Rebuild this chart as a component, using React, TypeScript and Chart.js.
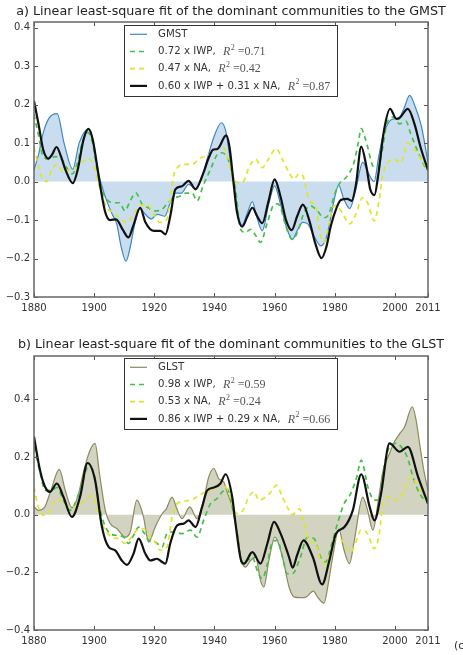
import { useEffect, useRef } from "react";
import { Chart, registerables } from "chart.js";

Chart.register(...registerables);

type Pt = [number, number];

// ---- shared axis ticks ----
const xTickYears = [1880, 1900, 1920, 1940, 1960, 1980, 2000, 2011];
const yTicksA = [-0.3, -0.2, -0.1, 0, 0.1, 0.2, 0.3, 0.4];
const yTicksB = [-0.4, -0.2, 0, 0.2, 0.4];

// ---- panel a: fit to GMST ----
const titleA = "a) Linear least-square fit of the dominant communities to the GMST";
const labelsA = ["GMST", "0.72 x IWP, ", "0.47 x NA, ", "0.60 x IWP + 0.31 x NA, "];
const r2A = ["", "0.71", "0.42", "0.87"];

const gmst: Pt[] = [
  [1880, 0.03], [1881.5, 0.07], [1883, 0.125], [1885, 0.165], [1887.7, 0.177], [1890, 0.1],
  [1892.9, 0.032], [1895, 0.1], [1898.2, 0.137], [1899.8, 0.1], [1901.5, 0.02], [1902.5, -0.01],
  [1904.2, -0.05], [1906, -0.085], [1907.5, -0.11], [1909, -0.17], [1910.6, -0.207], [1912, -0.17],
  [1913.5, -0.11], [1915.3, -0.07], [1917, -0.085], [1919, -0.097], [1921, -0.085], [1923.5, -0.09],
  [1925.3, -0.055], [1927, -0.03], [1929, -0.03], [1931.4, -0.007], [1933.7, -0.018], [1936, 0.015],
  [1938, 0.07], [1940, 0.12], [1942.3, 0.153], [1943.8, 0.13], [1945, 0.07], [1946.4, 0.0],
  [1947.5, -0.07], [1949.2, -0.113], [1951, -0.08], [1952.6, -0.052], [1954, -0.09], [1955.9, -0.128],
  [1958, -0.06], [1960, -0.011], [1962, -0.06], [1964, -0.12], [1965.9, -0.15], [1967.5, -0.128],
  [1969.3, -0.106], [1971, -0.11], [1973, -0.14], [1975.4, -0.167], [1977, -0.15], [1978.5, -0.1],
  [1980, -0.04], [1981.3, -0.01], [1983, -0.045], [1985, -0.07], [1987, -0.02], [1989.3, 0.05],
  [1991, 0.025], [1993.1, 0.0], [1994.5, 0.06], [1996, 0.118], [1998.2, 0.157], [2000, 0.164],
  [2001.6, 0.168], [2003, 0.19], [2004.9, 0.224], [2006.5, 0.2], [2008.8, 0.144], [2011, 0.05],
];

const iwpA: Pt[] = [
  [1880, 0.175], [1881.5, 0.12], [1883, 0.066], [1885, 0.058], [1887, 0.065], [1889.5, 0.055],
  [1891, 0.035], [1892.7, 0.02], [1894.5, 0.05], [1896, 0.1], [1897.8, 0.128], [1899.5, 0.1],
  [1901, 0.03], [1902.5, -0.02], [1904.2, -0.046], [1906.5, -0.055], [1908.5, -0.055], [1910.2, -0.076],
  [1912, -0.05], [1913.8, -0.029], [1916, -0.059], [1918, -0.068], [1920, -0.076], [1922, -0.075],
  [1924, -0.06], [1926, -0.045], [1928.5, -0.038], [1930.5, -0.03], [1932.6, -0.03], [1934.2, -0.05],
  [1936.4, -0.007], [1938.7, 0.032], [1940.9, 0.07], [1942.5, 0.075], [1944, 0.066], [1945.3, 0.04],
  [1947, -0.02], [1948.7, -0.124], [1950.3, -0.132], [1952, -0.124], [1953.7, -0.14], [1955.3, -0.158],
  [1957.6, -0.106], [1959.8, -0.06], [1961, -0.058], [1962, -0.068], [1963.7, -0.115], [1965.9, -0.15],
  [1967.6, -0.132], [1969.8, -0.08], [1972, -0.063], [1974.2, -0.076], [1976.4, -0.094], [1978, -0.085],
  [1979.8, -0.037], [1981.4, -0.007], [1984.2, 0.015], [1986.4, 0.05], [1987.8, 0.1], [1988.8, 0.138],
  [1990, 0.115], [1991, 0.088], [1992.7, 0.04], [1994.3, 0.036], [1995.5, 0.07], [1997.5, 0.155],
  [1999.5, 0.168], [2001.5, 0.15], [2003.7, 0.157], [2005, 0.13], [2007.1, 0.088], [2009.9, 0.04],
  [2011, 0.03],
];

const naA: Pt[] = [
  [1880, 0.09], [1881.5, 0.04], [1882.6, 0.01], [1884.2, 0.0], [1885.9, 0.03], [1887.5, 0.045],
  [1889.8, 0.025], [1892, 0.032], [1894, 0.035], [1896, 0.05], [1898.1, 0.06], [1899.8, 0.04],
  [1902, -0.02], [1904.2, -0.068], [1906.4, -0.08], [1908.7, -0.098], [1910.9, -0.106], [1913.1, -0.085],
  [1915.3, -0.063], [1917.6, -0.059], [1919.8, -0.085], [1922, -0.106], [1924.2, -0.098], [1925.3, -0.046],
  [1926.4, 0.015], [1927.6, 0.036], [1930.3, 0.045], [1932.6, 0.045], [1935.3, 0.062], [1937.6, 0.067],
  [1940, 0.08], [1942.5, 0.092], [1944, 0.075], [1945.9, 0.015], [1948.1, -0.003], [1949.8, 0.002],
  [1951.4, 0.036], [1953.7, 0.058], [1955.9, 0.036], [1957.6, 0.054], [1960.5, 0.085], [1962.6, 0.058],
  [1964.8, 0.023], [1966.4, 0.006], [1968.1, 0.02], [1969.4, 0.015], [1970.3, -0.011], [1971.4, -0.046],
  [1973.7, -0.068], [1975.3, -0.141], [1976.4, -0.158], [1978, -0.111], [1979.9, -0.062], [1982, -0.075],
  [1985, -0.11], [1987, -0.085], [1989.2, -0.042], [1990.9, -0.055], [1993.1, -0.102], [1994.8, -0.046],
  [1995.9, 0.015], [1997.6, 0.049], [1999.8, 0.058], [2002, 0.049], [2004.2, 0.1], [2006, 0.09],
  [2008.7, 0.058], [2011, 0.032],
];

const fitA: Pt[] = [
  [1880, 0.21], [1881.5, 0.15], [1883, 0.085], [1884.8, 0.06], [1886, 0.07], [1887.5, 0.09],
  [1889, 0.065], [1890.5, 0.03], [1892.9, -0.004], [1894.5, 0.03], [1896.5, 0.11], [1898.1, 0.137],
  [1899.5, 0.11], [1901, 0.04], [1902.2, -0.02], [1903.7, -0.08], [1905.3, -0.1], [1907.3, -0.098],
  [1909.5, -0.125], [1911.4, -0.145], [1913, -0.115], [1915.3, -0.068], [1917, -0.105], [1919.8, -0.128],
  [1922, -0.128], [1923.7, -0.137], [1925.3, -0.09], [1927, -0.02], [1929.2, -0.012], [1931.4, 0.002],
  [1933.7, -0.02], [1936.2, 0.02], [1938, 0.06], [1939.5, 0.083], [1941, 0.085], [1943.9, 0.12],
  [1945, 0.09], [1946.3, 0.0], [1947.5, -0.08], [1949.2, -0.117], [1951, -0.09], [1952.6, -0.068],
  [1954.2, -0.09], [1955.9, -0.108], [1958, -0.05], [1960, 0.006], [1962, -0.04], [1963.8, -0.1],
  [1965.7, -0.126], [1967.5, -0.09], [1969.4, -0.06], [1971.5, -0.1], [1973.5, -0.16], [1975.6, -0.199],
  [1977.2, -0.17], [1978.7, -0.115], [1980.5, -0.07], [1982, -0.048], [1984.2, -0.045], [1985.6, -0.05],
  [1987, -0.01], [1988.8, 0.091], [1990.5, 0.04], [1991.8, -0.02], [1993.2, -0.035], [1994.5, 0.02],
  [1996.3, 0.13], [1998.4, 0.189], [2000.5, 0.163], [2001.5, 0.165], [2004.3, 0.189], [2006.5, 0.15],
  [2008.5, 0.09], [2011, 0.03],
];

// ---- panel b: fit to GLST ----
const titleB = "b) Linear least-square fit of the dominant communities to the GLST";
const labelsB = ["GLST", "0.98 x IWP, ", "0.53 x NA, ", "0.86 x IWP + 0.29 x NA, "];
const r2B = ["", "0.59", "0.24", "0.66"];

const glst: Pt[] = [
  [1880, 0.027], [1881.5, 0.015], [1883.5, 0.025], [1885.5, 0.08], [1888.4, 0.157], [1890.5, 0.08],
  [1892.6, 0.024], [1894.5, 0.06], [1896.5, 0.15], [1898.5, 0.22], [1900.3, 0.247], [1901.8, 0.14],
  [1903.7, 0.015], [1905.3, -0.031], [1907.6, -0.049], [1910.3, -0.078], [1912, -0.06], [1914.2, 0.05],
  [1916.4, -0.008], [1918.1, -0.095], [1920.3, -0.043], [1922.6, 0.003], [1924, 0.02], [1925.9, 0.061],
  [1927.5, 0.02], [1929.2, -0.014], [1931.8, 0.027], [1934.2, -0.014], [1936.4, 0.05], [1938.1, 0.131],
  [1939.8, 0.16], [1941.4, 0.125], [1943.1, 0.113], [1944.2, 0.079], [1945.9, 0.027], [1947.6, -0.066],
  [1948.7, -0.147], [1950.3, -0.182], [1952, -0.159], [1953.7, -0.147], [1955.3, -0.228], [1956.4, -0.251],
  [1958.1, -0.159], [1960.1, -0.078], [1962.6, -0.147], [1964.8, -0.251], [1966.4, -0.285], [1968.5, -0.288],
  [1970.4, -0.286], [1972.9, -0.265], [1974.3, -0.286], [1976.4, -0.307], [1978, -0.23], [1979.3, -0.147],
  [1981.4, -0.05], [1983, -0.12], [1984.9, -0.17], [1986.5, -0.09], [1989.3, 0.061], [1990.8, 0.02],
  [1992.7, -0.054], [1994.5, 0.05], [1996, 0.15], [1998.2, 0.212], [2000, 0.255], [2001.6, 0.281],
  [2003.2, 0.304], [2005.8, 0.374], [2007, 0.33], [2008.2, 0.247], [2009.5, 0.16], [2011, 0.084],
];

const iwpB: Pt[] = [
  [1880, 0.235], [1882, 0.148], [1883.7, 0.084], [1885.9, 0.084], [1887.6, 0.094], [1889.8, 0.05],
  [1892, 0.015], [1895.3, 0.084], [1898.1, 0.166], [1899.8, 0.148], [1902, 0.015], [1905.3, -0.066],
  [1907.6, -0.072], [1909.8, -0.078], [1911.4, -0.1], [1913.1, -0.072], [1914.8, -0.043], [1916.4, -0.06],
  [1918.1, -0.089], [1920.3, -0.095], [1922.6, -0.112], [1924.2, -0.066], [1926.4, -0.06], [1929.2, -0.066],
  [1932, -0.054], [1934.2, -0.078], [1936.4, -0.02], [1938.7, 0.038], [1940.9, 0.056], [1942.6, 0.079],
  [1944.2, 0.09], [1945.9, 0.027], [1947.6, -0.066], [1949.2, -0.17], [1950.9, -0.159], [1952.6, -0.147],
  [1954.2, -0.193], [1955.9, -0.222], [1957.6, -0.17], [1959.2, -0.095], [1960.9, -0.089], [1962.6, -0.147],
  [1964.2, -0.205], [1965.9, -0.205], [1968.5, -0.15], [1970.9, -0.078], [1973.1, -0.083], [1975.3, -0.147],
  [1977, -0.164], [1978.7, -0.112], [1980.9, -0.031], [1983.1, 0.038], [1985.3, 0.073], [1987.3, 0.13],
  [1988.8, 0.189], [1991, 0.096], [1993.2, 0.05], [1994.9, 0.05], [1996, 0.142], [1998.2, 0.235],
  [2000.4, 0.247], [2002.1, 0.235], [2004.3, 0.194], [2006, 0.131], [2008.2, 0.073], [2011, 0.04],
];

const naB: Pt[] = [
  [1880, 0.096], [1881.4, 0.027], [1883.1, -0.002], [1884.8, 0.003], [1886.4, 0.038], [1888, 0.056],
  [1889.8, 0.038], [1892, 0.027], [1894, 0.03], [1896.4, 0.044], [1899.2, 0.067], [1900.5, 0.04],
  [1902.6, -0.031], [1905.9, -0.078], [1908.1, -0.083], [1910.3, -0.1], [1912, -0.083], [1914.2, -0.054],
  [1916.4, -0.049], [1918.7, -0.078], [1920.3, -0.095], [1922, -0.124], [1924.2, -0.112], [1925.9, -0.008],
  [1927.6, 0.038], [1930.3, 0.047], [1933.1, 0.055], [1935.9, 0.073], [1938.7, 0.084], [1940.9, 0.102],
  [1943.7, 0.096], [1945.3, 0.061], [1946.4, 0.015], [1948.1, 0.003], [1949.8, 0.021], [1951.4, 0.061],
  [1953.1, 0.079], [1954.8, 0.05], [1957, 0.061], [1959.2, 0.084], [1960.6, 0.102], [1962.6, 0.061],
  [1964.2, 0.027], [1965.9, 0.0], [1968.3, 0.02], [1969.8, -0.031], [1971.4, -0.089], [1973.7, -0.1],
  [1975.3, -0.159], [1977, -0.17], [1978.7, -0.124], [1980.3, -0.083], [1982.5, -0.09], [1985.3, -0.13],
  [1987, -0.095], [1988.7, -0.054], [1990.9, -0.066], [1993.1, -0.118], [1994.8, -0.066], [1995.9, 0.027],
  [1998.1, 0.061], [2000.3, 0.05], [2002.6, 0.073], [2005.3, 0.13], [2007, 0.11], [2009.2, 0.073],
  [2011, 0.038],
];

const fitB: Pt[] = [
  [1880, 0.27], [1882, 0.154], [1883.7, 0.096], [1885.3, 0.079], [1887.6, 0.108], [1889.8, 0.061],
  [1892.6, -0.008], [1895.3, 0.061], [1897.8, 0.179], [1900.3, 0.12], [1902.6, -0.043], [1904.8, -0.112],
  [1907, -0.124], [1909.2, -0.159], [1910.9, -0.174], [1913.1, -0.135], [1914.8, -0.083], [1917, -0.135],
  [1918.7, -0.159], [1920.9, -0.153], [1922.6, -0.164], [1923.7, -0.17], [1925.3, -0.1], [1927.6, -0.037],
  [1929.8, -0.031], [1931.4, -0.02], [1933.7, -0.043], [1935.9, 0.027], [1937.6, 0.084], [1939.8, 0.094],
  [1942, 0.108], [1943.7, 0.14], [1945.9, 0.061], [1947, -0.031], [1948.7, -0.153], [1949.8, -0.17],
  [1952.6, -0.13], [1955.3, -0.17], [1957.6, -0.1], [1959.8, -0.025], [1962, -0.066], [1964.8, -0.147],
  [1966, -0.184], [1967.5, -0.14], [1969.6, -0.089], [1972.7, -0.147], [1975.8, -0.242], [1978.2, -0.159],
  [1980.4, -0.066], [1983.2, -0.043], [1986, 0.015], [1988.8, 0.14], [1991.6, 0.027], [1993.2, -0.02],
  [1995.4, 0.073], [1998.2, 0.247], [2001.6, 0.218], [2004.3, 0.235], [2007.7, 0.131], [2011, 0.038],
];

// ---- styling ----
const FONT = '"DejaVu Sans", sans-serif';
const SERIF = '"Liberation Serif", "DejaVu Serif", serif';
const GREEN = "#45c04a";
const YELLOW = "#dfe62a";
const DASH = [5, 4];

type PanelSpec = {
  title: string;
  labels: string[];
  r2: string[];
  obs: Pt[];
  iwp: Pt[];
  na: Pt[];
  fit: Pt[];
  obsLine: string;
  obsFill: string;
  yMin: number;
  yMax: number;
  yTicks: number[];
  canvasH: number;
  plotTop: number;
  xAxisH: number;
  titleY: number;
  legendTop: number;
  tag?: { text: string; x: number; y: number };
};

const fmtY = (v: number) => {
  const r = Math.round(v * 10) / 10;
  if (Math.abs(r) < 1e-9) return "0.0";
  return (r < 0 ? "\u2212" : "") + Math.abs(r).toFixed(1);
};

const toXY = (pts: Pt[]) => pts.map(([x, y]) => ({ x, y }));

const decor = {
  id: "decor",
  afterDraw(chart: any, _args: any, o: any) {
    const { ctx, chartArea: a, scales } = chart;
    const xs = scales.x;
    const ys = scales.y;
    ctx.save();

    // inward tick marks on all four sides
    ctx.strokeStyle = "#555";
    ctx.lineWidth = 1;
    ctx.beginPath();
    for (const t of xTickYears) {
      const px = Math.round(xs.getPixelForValue(t)) + 0.5;
      ctx.moveTo(px, a.bottom);
      ctx.lineTo(px, a.bottom - 4);
      ctx.moveTo(px, a.top);
      ctx.lineTo(px, a.top + 4);
    }
    for (const t of o.yTicks) {
      const py = Math.round(ys.getPixelForValue(t)) + 0.5;
      ctx.moveTo(a.left, py);
      ctx.lineTo(a.left + 4, py);
      ctx.moveTo(a.right, py);
      ctx.lineTo(a.right - 4, py);
    }
    ctx.stroke();

    // frame
    ctx.strokeStyle = "#666";
    ctx.lineWidth = 1.5;
    ctx.strokeRect(a.left, a.top, a.right - a.left, a.bottom - a.top);

    // title
    ctx.fillStyle = "#222";
    ctx.font = `12.7px ${FONT}`;
    ctx.textAlign = "center";
    ctx.textBaseline = "middle";
    ctx.fillText(o.title, (a.left + a.right) / 2, o.titleY);

    // legend
    const lx = 124.5;
    const ly = o.legendTop + 0.5;
    ctx.fillStyle = "#fff";
    ctx.fillRect(lx, ly, 213, 71);
    ctx.strokeStyle = "#333";
    ctx.lineWidth = 1;
    ctx.strokeRect(lx, ly, 213, 71);
    const ds = chart.data.datasets;
    ds.forEach((d: any, i: number) => {
      const y = o.legendTop + 9.3 + i * 17.2;
      ctx.save();
      ctx.strokeStyle = d.borderColor;
      ctx.lineWidth = d.borderWidth;
      ctx.setLineDash(d.borderDash || []);
      ctx.beginPath();
      ctx.moveTo(130, y);
      ctx.lineTo(147, y);
      ctx.stroke();
      ctx.restore();

      ctx.textAlign = "left";
      ctx.textBaseline = "middle";
      ctx.fillStyle = "#333";
      ctx.font = `10.2px ${FONT}`;
      let x = 158;
      ctx.fillText(o.labels[i], x, y);
      x += ctx.measureText(o.labels[i]).width + 4;
      if (o.r2[i]) {
        ctx.fillStyle = "#555";
        ctx.font = `italic 12px ${SERIF}`;
        ctx.fillText("R", x, y + 0.5);
        x += ctx.measureText("R").width + 0.5;
        ctx.font = `8px ${SERIF}`;
        ctx.fillText("2", x, y - 4);
        x += ctx.measureText("2").width;
        ctx.font = `12px ${SERIF}`;
        ctx.fillText(" =" + o.r2[i], x, y + 0.5);
      }
    });

    if (o.tag) {
      ctx.fillStyle = "#333";
      ctx.font = `11px ${FONT}`;
      ctx.textAlign = "left";
      ctx.textBaseline = "middle";
      ctx.fillText(o.tag.text, o.tag.x, o.tag.y);
    }
    ctx.restore();
  },
};

function buildConfig(p: PanelSpec): any {
  const common = { pointRadius: 0, cubicInterpolationMode: "monotone", fill: false };
  return {
    type: "line",
    data: {
      datasets: [
        {
          ...common,
          label: p.labels[0],
          data: toXY(p.obs),
          borderColor: p.obsLine,
          borderWidth: 1.2,
          backgroundColor: p.obsFill,
          fill: "origin",
          order: 3,
        },
        {
          ...common,
          label: p.labels[1],
          data: toXY(p.iwp),
          borderColor: GREEN,
          borderWidth: 1.7,
          borderDash: DASH,
          order: 2,
        },
        {
          ...common,
          label: p.labels[2],
          data: toXY(p.na),
          borderColor: YELLOW,
          borderWidth: 1.7,
          borderDash: DASH,
          order: 1,
        },
        {
          ...common,
          label: p.labels[3],
          data: toXY(p.fit),
          borderColor: "#111",
          borderWidth: 2.2,
          order: 0,
        },
      ],
    },
    options: {
      responsive: false,
      animation: false,
      devicePixelRatio: 1,
      layout: { padding: { top: p.plotTop, right: 35, left: 0, bottom: 0 } },
      plugins: {
        legend: { display: false },
        tooltip: { enabled: false },
        decor: {
          title: p.title,
          titleY: p.titleY,
          labels: p.labels,
          r2: p.r2,
          yTicks: p.yTicks,
          legendTop: p.legendTop,
          tag: p.tag,
        },
      },
      scales: {
        x: {
          type: "linear",
          min: 1880,
          max: 2011,
          grid: { display: false, drawTicks: false },
          border: { display: false },
          ticks: {
            color: "#333",
            font: { size: 10, family: FONT },
            padding: 5,
            maxRotation: 0,
            autoSkip: false,
            callback: (v: number) => String(v),
          },
          afterBuildTicks: (s: any) => {
            s.ticks = xTickYears.map((v) => ({ value: v }));
          },
          afterFit: (s: any) => {
            s.height = p.xAxisH;
          },
        },
        y: {
          type: "linear",
          min: p.yMin,
          max: p.yMax,
          grid: { display: false, drawTicks: false },
          border: { display: false },
          ticks: {
            color: "#333",
            font: { size: 10, family: FONT },
            padding: 4,
            callback: (v: number) => fmtY(v),
          },
          afterBuildTicks: (s: any) => {
            s.ticks = p.yTicks.map((v) => ({ value: v }));
          },
          afterFit: (s: any) => {
            s.width = 34;
          },
        },
      },
    },
    plugins: [decor],
  };
}

const panelA: PanelSpec = {
  title: titleA,
  labels: labelsA,
  r2: r2A,
  obs: gmst,
  iwp: iwpA,
  na: naA,
  fit: fitA,
  obsLine: "#3c88c6",
  obsFill: "rgba(120,170,215,0.4)",
  yMin: -0.3,
  yMax: 0.415,
  yTicks: yTicksA,
  canvasH: 320,
  plotTop: 22,
  xAxisH: 23,
  titleY: 12,
  legendTop: 25,
};

const panelB: PanelSpec = {
  title: titleB,
  labels: labelsB,
  r2: r2B,
  obs: glst,
  iwp: iwpB,
  na: naB,
  fit: fitB,
  obsLine: "#8c8a5e",
  obsFill: "rgba(130,128,80,0.35)",
  yMin: -0.4,
  yMax: 0.55,
  yTicks: yTicksB,
  canvasH: 335,
  plotTop: 36,
  xAxisH: 25,
  titleY: 25,
  legendTop: 38,
  tag: { text: "(c)", x: 454, y: 326 },
};

function Panel({ spec, top }: { spec: PanelSpec; top: number }) {
  const ref = useRef<HTMLCanvasElement>(null);
  useEffect(() => {
    const chart = new Chart(ref.current as HTMLCanvasElement, buildConfig(spec));
    return () => chart.destroy();
  }, [spec]);
  return (
    <canvas
      ref={ref}
      width={463}
      height={spec.canvasH}
      style={{ position: "absolute", left: 0, top, width: 463, height: spec.canvasH }}
    />
  );
}

export default function App() {
  return (
    <div style={{ position: "absolute", left: 0, top: 0, width: 463, height: 655, background: "#fff", overflow: "hidden" }}>
      <Panel spec={panelA} top={0} />
      <Panel spec={panelB} top={320} />
    </div>
  );
}
